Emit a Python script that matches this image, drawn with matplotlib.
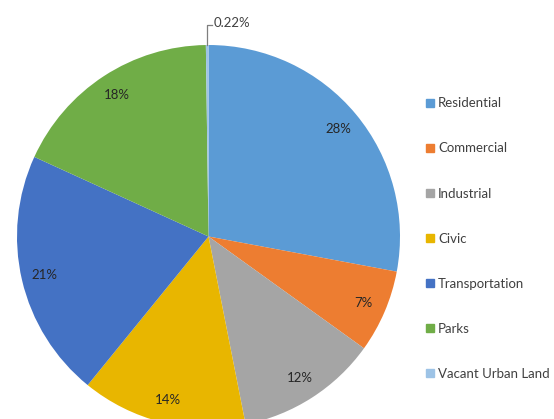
import matplotlib.pyplot as plt
import matplotlib.patches as mpatches
import numpy as np

plt.rcParams['font.family'] = ['Lato', 'DejaVu Sans']

categories = ['Residential', 'Commercial', 'Industrial', 'Civic',
              'Transportation', 'Parks', 'Vacant Urban Land']
values = [28, 7, 12, 14, 21, 18, 0.22]
colors = ['#5B9BD5', '#ED7D31', '#A5A5A5', '#E8B600', '#4472C4', '#70AD47', '#9DC3E6']

W, H = 554, 419
fig = plt.figure(figsize=(W / 100, H / 100), dpi=100)
# pie centre ~ (208.5, 236.5) px from top-left, radius ~191.5 px
cx, cy, r = 208.5, 236.5, 191.5
ax = fig.add_axes([(cx - r) / W, (H - cy - r) / H, 2 * r / W, 2 * r / H])

wedges, _ = ax.pie(values, colors=colors, startangle=90, counterclock=False,
                   radius=1, wedgeprops=dict(linewidth=0))
ax.set_xlim(-1, 1)
ax.set_ylim(-1, 1)
ax.set_aspect('equal')
ax.axis('off')

for w, v in zip(wedges, values):
    mid = np.deg2rad((w.theta1 + w.theta2) / 2)
    if v < 1:
        x0, y0 = np.cos(mid), np.sin(mid)
        ax.plot([x0, x0, x0 + 0.025], [y0, 1.105, 1.105], color='#7f7f7f', lw=0.9,
                clip_on=False)
        ax.text(x0 + 0.035, 1.115, '%.2f%%' % v, fontsize=9.5, color='#404040',
                va='center', ha='left')
    else:
        d = 0.88
        ax.text(d * np.cos(mid), d * np.sin(mid), '%d%%' % round(v), fontsize=9.5,
                color='#262626', ha='center', va='center')

handles = [mpatches.Patch(color=c, label=l) for c, l in zip(colors, categories)]
leg = fig.legend(handles=handles, loc='upper left', bbox_to_anchor=(421 / W, 1 - 92 / H),
                 frameon=False, fontsize=9.5, handlelength=0.55, handleheight=0.55,
                 handletextpad=0.35, labelspacing=2.51, borderaxespad=0)
for t in leg.get_texts():
    t.set_color('#404040')

fig.savefig('out.png', dpi=100)
